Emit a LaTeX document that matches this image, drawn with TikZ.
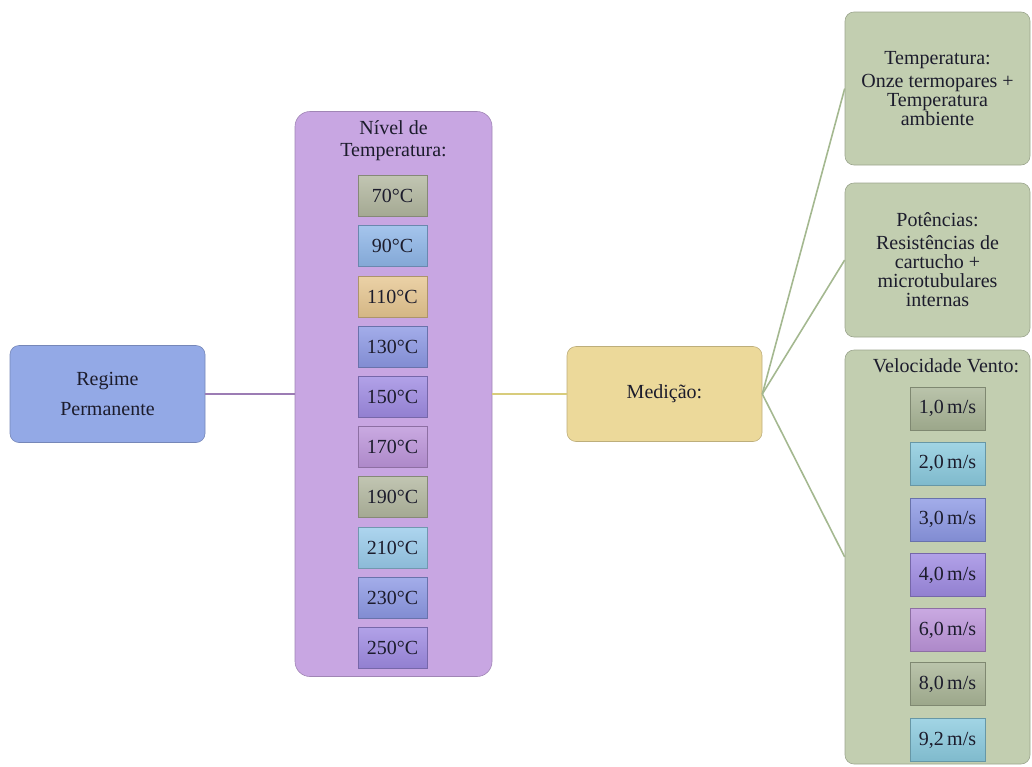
\documentclass[tikz,border=0pt]{standalone}
\usepackage{fontspec}
\setmainfont{Liberation Serif}
\usetikzlibrary{positioning}
\definecolor{txt}{HTML}{1C1C2C}
\definecolor{regimeC}{HTML}{93A9E6}
\definecolor{purpleC}{HTML}{C8A6E2}
\definecolor{medC}{HTML}{ECD99A}
\definecolor{greenC}{HTML}{C2CEB0}
\definecolor{lnPurple}{HTML}{9C7CB4}
\definecolor{lnYellow}{HTML}{D8CC7C}
\definecolor{lnGreen}{HTML}{A4B890}
\definecolor{cGray}{HTML}{B2B79F}
\definecolor{cBlue}{HTML}{8EB6E8}
\definecolor{cTan}{HTML}{E6C690}
\definecolor{cPeri}{HTML}{8C98E4}
\definecolor{cViolet}{HTML}{9E8AE2}
\definecolor{cMauve}{HTML}{BC94DA}
\definecolor{cCyan}{HTML}{98CAEA}
\definecolor{vGray}{HTML}{A9B596}
\definecolor{vCyan}{HTML}{8ACADE}
\tikzset{
  x=1pt, y=-1pt,
  every node/.style={font=\fontsize{20}{19}\selectfont, text=txt},
  bigbox/.style={draw=#1!80!black, line width=0.6pt, fill=#1, rounded corners=9pt, align=center, inner sep=2pt},
  chip/.style={draw=#1!75!black, line width=0.6pt, top color=#1!80!white, bottom color=#1!92!black, minimum width=69pt, minimum height=41pt, inner sep=0pt},
  vchip/.style={draw=#1!75!black, line width=0.6pt, top color=#1!80!white, bottom color=#1!92!black, minimum width=75pt, minimum height=43pt, inner sep=0pt},
  conn/.style={draw=#1, line width=1.6pt}
}
\begin{document}
\begin{tikzpicture}
\useasboundingbox (0,0) rectangle (1032,766);
% main boxes
\node[bigbox=regimeC, minimum width=195pt, minimum height=97pt, font=\fontsize{20}{30}\selectfont] (regime) at (107.5,394) {Regime\\Permanente};
\node[bigbox=purpleC, minimum width=197pt, minimum height=565pt, rounded corners=15pt] (nivel) at (393.5,394) {};
\node[align=center, font=\fontsize{20}{22}\selectfont] (niveltitle) at (393.5,141) {Nível de\\Temperatura:};
\node[bigbox=medC, minimum width=195pt, minimum height=95pt] (med) at (664.5,394) {Medição:};
\node[bigbox=greenC, minimum width=185pt, minimum height=153pt] (temp) at (937.5,88.5) {Temperatura:\\[4pt]Onze termopares +\\Temperatura\\ambiente};
\node[bigbox=greenC, minimum width=185pt, minimum height=154pt] (pot) at (937.5,260) {Potências:\\[4pt]Resistências de\\cartucho +\\microtubulares\\internas};
\node[bigbox=greenC, minimum width=185pt, minimum height=414pt] (vel) at (937.5,557) {};
\node (veltitle) at (946,366) {Velocidade Vento:};
% temperature chips
\node[chip=cGray]   (t70)  at (392.5,196) {70°C};
\node[chip=cBlue]   (t90)  at (392.5,246) {90°C};
\node[chip=cTan]    (t110) at (392.5,297) {110°C};
\node[chip=cPeri]   (t130) at (392.5,347) {130°C};
\node[chip=cViolet] (t150) at (392.5,397) {150°C};
\node[chip=cMauve]  (t170) at (392.5,447) {170°C};
\node[chip=cGray]   (t190) at (392.5,497) {190°C};
\node[chip=cCyan]   (t210) at (392.5,548) {210°C};
\node[chip=cPeri]   (t230) at (392.5,598) {230°C};
\node[chip=cViolet] (t250) at (392.5,648) {250°C};
% velocity chips
\node[vchip=vGray]   (v1) at (947.5,408.5) {1,0\,m/s};
\node[vchip=vCyan]   (v2) at (947.5,463.5) {2,0\,m/s};
\node[vchip=cPeri]   (v3) at (947.5,519.5) {3,0\,m/s};
\node[vchip=cViolet] (v4) at (947.5,575) {4,0\,m/s};
\node[vchip=cMauve]  (v6) at (947.5,630) {6,0\,m/s};
\node[vchip=vGray]   (v8) at (947.5,684) {8,0\,m/s};
\node[vchip=vCyan]   (v9) at (947.5,740) {9,2\,m/s};
% connectors
\draw[conn=lnPurple] (regime.east) -- (nivel.west);
\draw[conn=lnYellow] (nivel.east) -- (med.west);
\draw[conn=lnGreen] (med.east) -- (temp.west);
\draw[conn=lnGreen] (med.east) -- (pot.west);
\draw[conn=lnGreen] (med.east) -- (vel.west);
\end{tikzpicture}
\end{document}
